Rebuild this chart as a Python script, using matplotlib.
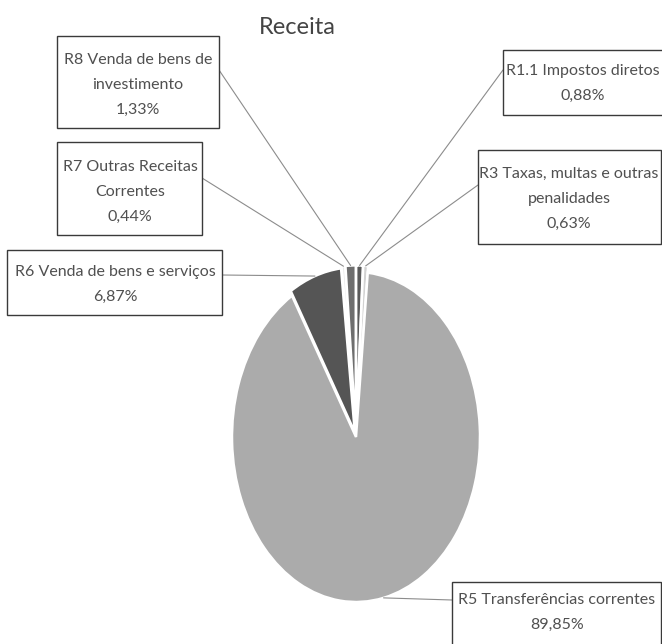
import numpy as np
import matplotlib
matplotlib.use('Agg')
import matplotlib.pyplot as plt
from matplotlib.patches import Rectangle

# Data (percentages, clockwise from 12 o'clock)
labels = ['R1.1 Impostos diretos', 'R3 Taxas, multas e outras\npenalidades',
          'R5 Transferências correntes', 'R6 Venda de bens e serviços',
          'R7 Outras Receitas\nCorrentes', 'R8 Venda de bens de\ninvestimento']
values = [0.88, 0.63, 89.85, 6.87, 0.44, 1.33]
pct_text = ['0,88%', '0,63%', '89,85%', '6,87%', '0,44%', '1,33%']
colors = ['#5a5a5a', '#d2d2d2', '#ababab', '#555555', '#e6e6e6', '#6e6e6e']
explode = [0.04, 0.04, 0.0, 0.03, 0.04, 0.04]

W, H = 662, 644
plt.rcParams['font.family'] = ['Lato', 'DejaVu Sans']
fig = plt.figure(figsize=(W / 100, H / 100), dpi=100)


def fx(px):
    return px / W


def fy(py):
    return 1 - py / H


# pie axes: ellipse centred at (356, 437), half-width 124 px, half-height 165 px
cx, cy, rx, ry = 356, 437, 124, 165
lim = 1.2
ax = fig.add_axes([fx(cx - lim * rx), fy(cy + lim * ry), 2 * lim * rx / W, 2 * lim * ry / H])
wedges, _ = ax.pie(values, colors=colors, explode=explode, startangle=90,
                   counterclock=False, radius=1.0,
                   wedgeprops=dict(edgecolor='white', linewidth=1.8))
ax.set_aspect('auto')
ax.set_xlim(-lim, lim)
ax.set_ylim(-lim, lim)
ax.axis('off')

# label boxes (left, top, right, bottom in pixels) and leader start points
boxes = [(503, 50, 668, 115), (478, 150, 661, 244), (452, 582, 661, 650),
         (7, 250, 222, 315), (57, 142, 202, 235), (57, 36, 219, 128)]
anchors = [(503, 70), (478, 185), (452, 600), (222, 275), (202, 178), (219, 70)]
centers = [(583, 83), (569, 199), (557, 612), (115, 284), (130, 192), (138, 85)]

cum = np.cumsum([0] + values[:-1])
for i, (lab, v) in enumerate(zip(labels, values)):
    mid = np.deg2rad(90 - 360 * (cum[i] + v / 2) / 100)
    r = 1.0 + explode[i]
    ex, ey = r * np.cos(mid), r * np.sin(mid)
    ax.annotate('', xy=(ex, ey), xycoords='data',
                xytext=(anchors[i][0], H - anchors[i][1]), textcoords='figure pixels',
                arrowprops=dict(arrowstyle='-', color='#8c8c8c', lw=0.8,
                                shrinkA=0, shrinkB=0))
    l, t, rr, b = boxes[i]
    fig.add_artist(Rectangle((fx(l), fy(b)), (rr - l) / W, (b - t) / H,
                             transform=fig.transFigure, facecolor='white',
                             edgecolor='#3a3a3a', lw=1.0, zorder=3))
    fig.text(fx(centers[i][0]), fy(centers[i][1]), lab + '\n' + pct_text[i],
             ha='center', va='center', multialignment='center',
             fontsize=11.5, linespacing=2.0, color='#505050', zorder=4)

fig.text(fx(297), fy(27), 'Receita', ha='center', va='center', fontsize=17, color='#444444')

plt.savefig('out.png', dpi=100, facecolor='white')
